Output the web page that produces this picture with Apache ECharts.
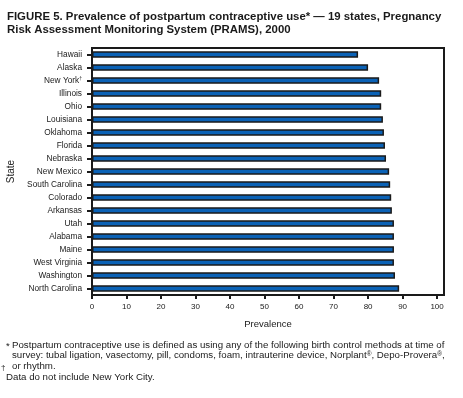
<!DOCTYPE html>
<html>
<head>
<meta charset="utf-8">
<script src="https://cdn.jsdelivr.net/npm/echarts@6/dist/echarts.min.js"></script>
<style>
  html, body { margin: 0; padding: 0; background: #fff; }
  #chart { width: 463px; height: 398px; }
</style>
</head>
<body>
<div id="chart"></div>
<script>
// states top to bottom, as in the figure
const states = ['Hawaii', 'Alaska', 'New York†', 'Illinois', 'Ohio', 'Louisiana', 'Oklahoma', 'Florida',
  'Nebraska', 'New Mexico', 'South Carolina', 'Colorado', 'Arkansas', 'Utah', 'Alabama', 'Maine',
  'West Virginia', 'Washington', 'North Carolina']
const prevalence = [77.1, 80.0, 83.2, 83.8, 83.8, 84.3, 84.6, 84.9, 85.2, 86.1, 86.4, 86.7, 86.9,
  87.5, 87.5, 87.5, 87.5, 87.8, 89.0]
const xTicks = [0, 10, 20, 30, 40, 50, 60, 70, 80, 90, 100]

const font = 'Liberation Sans, Arial, sans-serif'
const ink = '#1a1a1a'

const chart = echarts.init(document.getElementById('chart'))
chart.setOption({
  animation: false,
  title: {
    text: 'FIGURE 5. Prevalence of postpartum contraceptive use* — 19 states, Pregnancy\nRisk Assessment Monitoring System (PRAMS), 2000',
    left: 7,
    top: 11,
    padding: 0,
    textStyle: { fontFamily: font, fontSize: 11.4, fontWeight: 'bold', color: ink, lineHeight: 12.5 }
  },
  grid: {
    left: 92, right: 19, top: 48, bottom: 103,
    outerBoundsMode: 'none',
    containLabel: false,
    show: true, borderColor: ink, borderWidth: 2, backgroundColor: 'transparent'
  },
  xAxis: {
    type: 'value',
    min: 0,
    max: 102,
    name: 'Prevalence',
    nameLocation: 'middle',
    nameGap: 24,
    nameTextStyle: { fontFamily: font, fontSize: 9.5, color: ink },
    splitLine: { show: false },
    axisLine: { show: true, lineStyle: { color: ink, width: 2 } },
    axisTick: { show: true, length: 4, lineStyle: { color: ink, width: 2 }, customValues: xTicks },
    axisLabel: { fontFamily: font, fontSize: 8, color: ink, margin: 8, customValues: xTicks }
  },
  yAxis: {
    type: 'category',
    inverse: true,
    data: states,
    name: 'State',
    nameLocation: 'middle',
    nameRotate: 90,
    nameGap: 76,
    nameTextStyle: { fontFamily: font, fontSize: 10, color: ink },
    axisLine: { show: true, lineStyle: { color: ink, width: 2 } },
    axisTick: { show: true, alignWithLabel: true, length: 5, lineStyle: { color: ink, width: 2 } },
    axisLabel: {
      fontFamily: font, fontSize: 8.3, color: ink, margin: 10,
      formatter: v => v.replace('†', '{s|†}'),
      rich: { s: { fontFamily: font, fontSize: 5, color: ink, verticalAlign: 'top', padding: [0, 0, 4, 0] } }
    }
  },
  series: [{
    type: 'bar',
    data: prevalence,
    barWidth: 6.6,
    itemStyle: { color: '#0b62b6', borderColor: ink, borderWidth: 1.5 }
  }],
  graphic: [
    { type: 'text', left: 6, top: 341, style: { text: '*', font: '9.7px ' + font, fill: ink } },
    {
      type: 'text', left: 12, top: 340,
      style: {
        text: 'Postpartum contraceptive use is defined as using any of the following birth control methods at time of\n' +
          'survey: tubal ligation, vasectomy, pill, condoms, foam, intrauterine device, Norplant{r|®}, Depo-Provera{r|®},\n' +
          'or rhythm.',
        font: '9.7px ' + font, fill: ink, lineHeight: 10.5,
        rich: { r: { fontSize: 6.5, fontFamily: font, verticalAlign: 'top', padding: [0, 0, 3, 0] } }
      }
    },
    { type: 'text', left: 1, top: 364, style: { text: '†', font: '8px ' + font, fill: ink } },
    { type: 'text', left: 6, top: 372, style: { text: 'Data do not include New York City.', font: '9.7px ' + font, fill: ink } }
  ]
})
</script>
</body>
</html>
